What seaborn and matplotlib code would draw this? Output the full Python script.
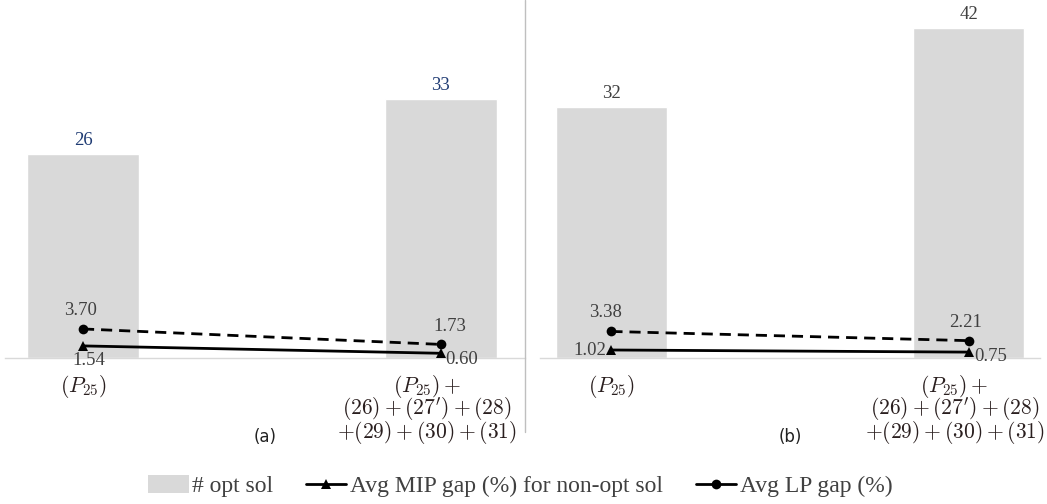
import matplotlib
matplotlib.use("Agg")
import matplotlib.pyplot as plt
import matplotlib.transforms as mtransforms
import seaborn as sns
import pandas as pd
from matplotlib.patches import Patch
from matplotlib.lines import Line2D

# ---------------- data ----------------
categories = [r"$(P_{\mathsf{25}})$",
              "$(P_{\\mathsf{25}})+$\n$(\\mathsf{26})+(\\mathsf{27}')+(\\mathsf{28})$\n"
              "$+(\\mathsf{29})+(\\mathsf{30})+(\\mathsf{31})$"]
panel_names = ["(a)", "(b)"]
opt_sol_a = [26, 33]
mip_gap_a = [1.54, 0.60]
lp_gap_a = [3.70, 1.73]
opt_sol_b = [32, 42]
mip_gap_b = [1.02, 0.75]
lp_gap_b = [3.38, 2.21]
legend_labels = ["# opt sol", "Avg MIP gap (%) for non-opt sol", "Avg LP gap (%)"]

# ---------------- style ----------------
sns.set_theme(style="white")
plt.rcParams["font.family"] = ["DejaVu Sans"]
plt.rcParams["mathtext.fontset"] = "cm"
SERIF = "Liberation Serif"
BAR_COLOR = "#D9D9D9"
TXT = "#404040"
TICK_COL = "#2a1f1f"

fig = plt.figure(figsize=(10.47, 5.04), dpi=100)
W, H = 1047, 504
base_y = (H - 358) / H
ax_a = fig.add_axes([5 / W, base_y, 520 / W, 1 - base_y])
ax_b = fig.add_axes([540 / W, base_y, 500 / W, 1 - base_y])

panels = [
    (ax_a, opt_sol_a, mip_gap_a, lp_gap_a, (-0.218, 1.235), "#1F3B73",
     [(-3, 18, "center"), (9, 18, "center")],          # LP label offsets (px)
     [(6, -15, "center"), (4, -6, "left")]),           # MIP label offsets
    (ax_b, opt_sol_b, mip_gap_b, lp_gap_b, (-0.2, 1.2), TXT,
     [(-6, 19, "center"), (-3, 18, "center")],
     [(-5, -1, "right"), (6, -4, "left")]),
]
tick_shift_px = [0, -14]

for ax, opt, mip, lp, xl, barlab_col, lp_off, mip_off in panels:
    df = pd.DataFrame({"cat": categories, "opt": opt})
    sns.barplot(data=df, x="cat", y="opt", color=BAR_COLOR, width=0.313,
                saturation=1, ax=ax, zorder=1)
    pos = list(range(len(categories)))
    dfl = pd.DataFrame({"x": pos, "mip": mip, "lp": lp})
    sns.lineplot(data=dfl, x="x", y="lp", ax=ax, color="black", lw=2,
                 linestyle=(0, (4, 2.5)), marker="o", markersize=7,
                 markeredgewidth=0, zorder=3)
    sns.lineplot(data=dfl, x="x", y="mip", ax=ax, color="black", lw=2,
                 marker="^", markersize=7, markeredgewidth=0, zorder=3)
    for i, v in enumerate(opt):
        ax.annotate(f"{v}", (i, v), xytext=(0, 5), textcoords="offset pixels",
                    ha="center", va="bottom", fontsize=13.5, family=SERIF,
                    color=barlab_col)
    for i, v in enumerate(lp):
        dx, dy, ha = lp_off[i]
        ax.annotate(f"{v:.2f}", (i, v), xytext=(dx, dy), textcoords="offset pixels",
                    ha=ha, va="center", fontsize=13.5, family=SERIF, color=TXT)
    for i, v in enumerate(mip):
        dx, dy, ha = mip_off[i]
        ax.annotate(f"{v:.2f}", (i, v), xytext=(dx, dy), textcoords="offset pixels",
                    ha=ha, va="center", fontsize=13.5, family=SERIF, color=TXT)
    ax.set_xlim(*xl)
    ax.set_ylim(0, 45.6)
    ax.set_xlabel("")
    ax.set_ylabel("")
    ax.set_yticks([])
    ax.set_xticks(pos)
    ax.set_xticklabels(categories, fontsize=15.5, color=TICK_COL, linespacing=0.78)
    ax.tick_params(axis="x", length=0, pad=11)
    for lab, sh in zip(ax.get_xticklabels(), tick_shift_px):
        lab.set_transform(lab.get_transform() +
                          mtransforms.ScaledTranslation(sh / 100, 0, fig.dpi_scale_trans))
    for s in ["top", "right", "left"]:
        ax.spines[s].set_visible(False)
    ax.spines["bottom"].set_color("#D9D9D9")
    ax.spines["bottom"].set_linewidth(1)
    ax.patch.set_alpha(0)

for ax, name, cx in [(ax_a, panel_names[0], 265), (ax_b, panel_names[1], 790)]:
    fig.text(cx / W, (H - 437) / H, name, ha="center", va="center",
             fontsize=12, color="#222222")

# vertical separator
fig.add_artist(Line2D([525 / W, 525 / W], [(H - 432) / H, 1], color="#BFBFBF", lw=1))

handles = [
    Patch(facecolor=BAR_COLOR, edgecolor="none"),
    Line2D([], [], color="black", lw=2, marker="^", markersize=7, markeredgewidth=0),
    Line2D([], [], color="black", lw=2, marker="o", markersize=7, markeredgewidth=0),
]
fig.legend(handles, legend_labels, loc="center", bbox_to_anchor=(0.497, (H - 486) / H),
           ncol=3, frameon=False, prop={"family": SERIF, "size": 17},
           labelcolor=TXT, handlelength=1.7, handleheight=0.8, handletextpad=0.15,
           columnspacing=1.4)

fig.savefig("out.png", dpi=100)
